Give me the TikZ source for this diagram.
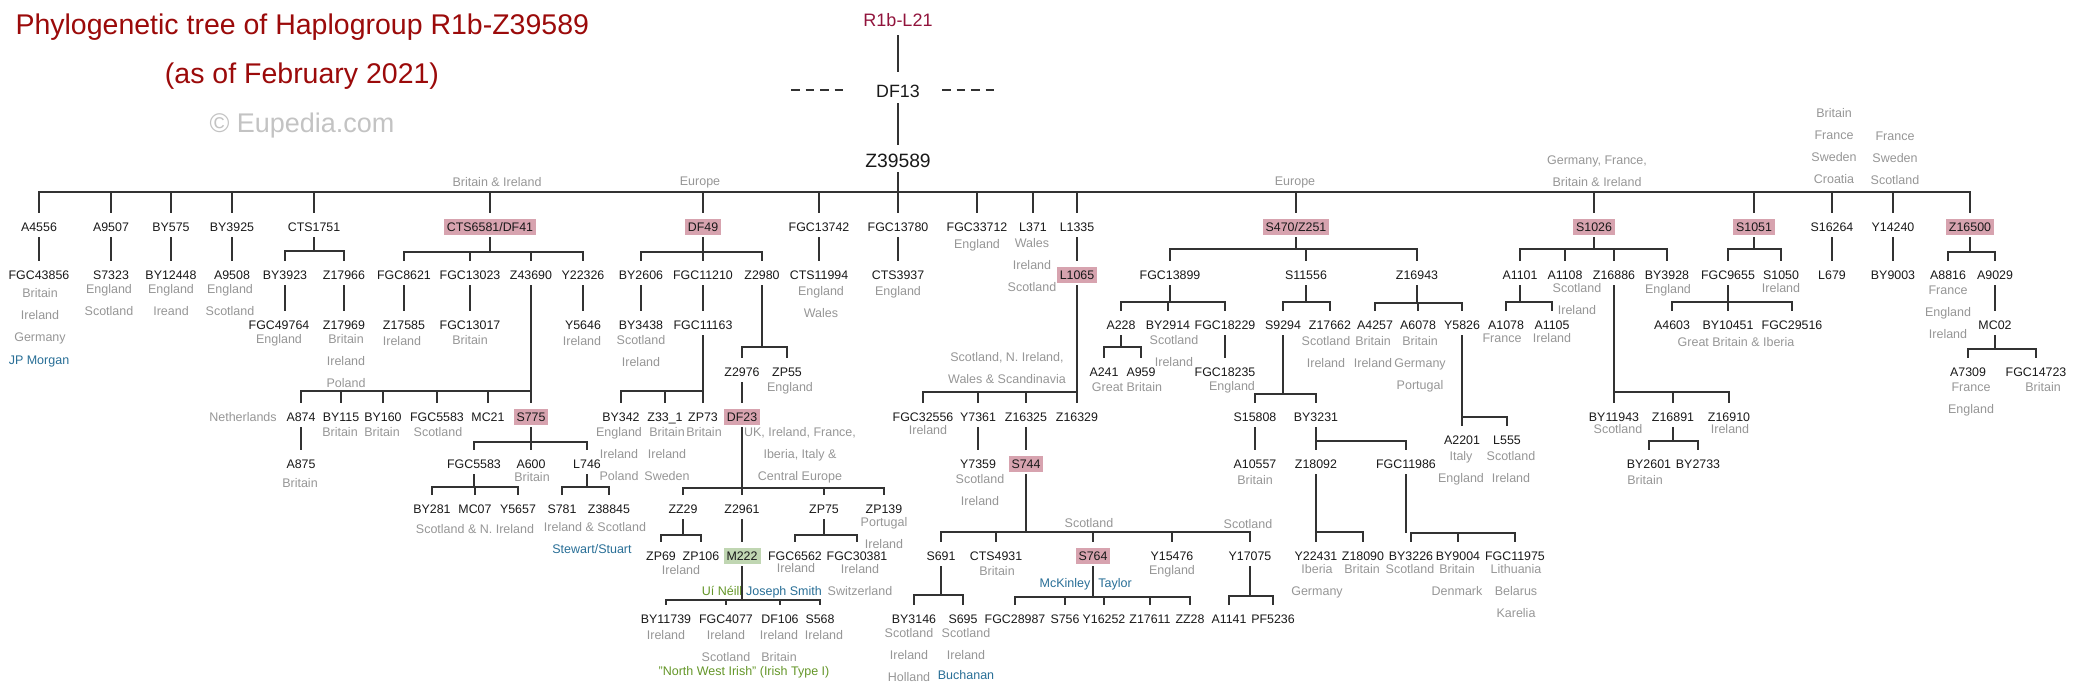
\documentclass[tikz,border=0pt]{standalone}
\usepackage{fontspec}
\setmainfont{Liberation Sans}
\definecolor{eup-red}{RGB}{155,10,10}
\definecolor{eup-wine}{RGB}{145,20,60}
\definecolor{eup-ink}{RGB}{25,25,25}
\definecolor{eup-line}{RGB}{50,50,50}
\definecolor{eup-grey}{RGB}{150,150,150}
\definecolor{eup-mark}{RGB}{195,195,195}
\definecolor{eup-pink}{RGB}{215,163,175}
\definecolor{eup-green}{RGB}{192,214,178}
\definecolor{eup-blue}{RGB}{40,110,150}
\definecolor{eup-olive}{RGB}{100,150,40}

\begin{document}
\begin{tikzpicture}[x=1pt,y=-1pt,
    snp/.style={font=\fontsize{12.4}{15}\selectfont, text=eup-ink, inner xsep=3pt, inner ysep=3.5pt, text height=9.2pt, text depth=0pt},
    key/.style={snp, fill=eup-pink},
    clade/.style={snp, fill=eup-green},
    rootname/.style={text=eup-ink, inner sep=3pt, anchor=base},
    head/.style={font=\fontsize{28.5}{30}\selectfont, text=eup-red},
    cty/.style={font=\fontsize{12.5}{22}\selectfont, text=eup-grey, align=center, anchor=north, inner sep=0pt, yshift=4.5pt},
    who/.style={cty, text=eup-blue},
    tribe/.style={cty, text=eup-olive},
    wire/.style={draw=eup-line, line width=1.8pt},
    lnk/.style={wire, shorten <=2pt, shorten >=6pt},
    stem/.style={wire, shorten <=2pt},
    fork/.style={wire, shorten <=6pt, shorten >=6pt},
    twig/.style={wire, shorten <=6pt}]
    \useasboundingbox (0,0) rectangle (2085,688);

    % heading
    \node[head, anchor=base west] (title) at (12,34) {Phylogenetic tree of Haplogroup R1b-Z39589};
    \node[head, anchor=base] (date) at (302,83) {(as of February 2021)};
    \node[font=\fontsize{27}{30}\selectfont, text=eup-mark, anchor=base] (site) at (302,132) {© Eupedia.com};

    % root
    \node[rootname, text=eup-wine, font=\fontsize{18}{20}\selectfont] (l21) at (898,27) {R1b-L21};
    \node[rootname, font=\fontsize{17.8}{20}\selectfont] (df13) at (898,97) {DF13};
    \node[rootname, font=\fontsize{19.3}{21}\selectfont] (z39589) at (898,167) {Z39589};
    \draw[wire, line width=1.3pt, dash pattern=on 8.5pt off 6pt] (791,90) -- (847,90);
    \draw[wire, line width=1.3pt, dash pattern=on 8.5pt off 6pt] (942,90) -- (996,90);
    \draw[wire, shorten <=5pt, shorten >=9pt] (l21) -- (df13);
    \draw[wire, shorten <=3pt, shorten >=5pt] (df13) -- (z39589);
    \draw[stem] (z39589) -- (z39589 |- 0,192);

    % first row
    \node[snp] (a4556) at (39,227) {A4556};
    \node[snp] (a9507) at (111,227) {A9507};
    \node[snp] (by575) at (171,227) {BY575};
    \node[snp] (by3925) at (232,227) {BY3925};
    \node[snp] (cts1751) at (314,227) {CTS1751};
    \node[key] (cts6581) at (490,227) {CTS6581/DF41};
    \node[key] (df49) at (703,227) {DF49};
    \node[snp] (fgc13742) at (819,227) {FGC13742};
    \node[snp] (fgc13780) at (898,227) {FGC13780};
    \node[snp] (fgc33712) at (977,227) {FGC33712};
    \node[snp] (l371) at (1033,227) {L371};
    \node[snp] (l1335) at (1077,227) {L1335};
    \node[key] (s470) at (1296,227) {S470/Z251};
    \node[key] (s1026) at (1594,227) {S1026};
    \node[key] (s1051) at (1754,227) {S1051};
    \node[snp] (s16264) at (1832,227) {S16264};
    \node[snp] (y14240) at (1893,227) {Y14240};
    \node[key] (z16500) at (1970,227) {Z16500};
    \draw[fork] (a4556) |- (z16500 |- 0,192) -- (z16500);
    \draw[twig] (a9507) -- (a9507 |- 0,192);
    \draw[twig] (by575) -- (by575 |- 0,192);
    \draw[twig] (by3925) -- (by3925 |- 0,192);
    \draw[twig] (cts1751) -- (cts1751 |- 0,192);
    \draw[twig] (cts6581) -- (cts6581 |- 0,192);
    \draw[twig] (df49) -- (df49 |- 0,192);
    \draw[twig] (fgc13742) -- (fgc13742 |- 0,192);
    \draw[twig] (fgc13780) -- (fgc13780 |- 0,192);
    \draw[twig] (fgc33712) -- (fgc33712 |- 0,192);
    \draw[twig] (l371) -- (l371 |- 0,192);
    \draw[twig] (l1335) -- (l1335 |- 0,192);
    \draw[twig] (s470) -- (s470 |- 0,192);
    \draw[twig] (s1026) -- (s1026 |- 0,192);
    \draw[twig] (s1051) -- (s1051 |- 0,192);
    \draw[twig] (s16264) -- (s16264 |- 0,192);
    \draw[twig] (y14240) -- (y14240 |- 0,192);
    \node[cty] (cts6581c) at (497,182) {Britain \& Ireland};
    \node[cty] (df49c) at (700,181) {Europe};
    \node[cty] (s470c) at (1295,181) {Europe};
    \node[cty] (s1026c) at (1597,160) {Germany, France,\\Britain \& Ireland};
    \node[cty] (s16264c) at (1834,113) {Britain\\France\\Sweden\\Croatia};
    \node[cty] (y14240c) at (1895,136) {France\\Sweden\\Scotland};

    % A4556 to CTS1751
    \node[snp] (fgc43856) at (39,275) {FGC43856};
    \node[cty] (fgc43856c) at (40,293) {Britain\\Ireland\\Germany};
    \node[who] (jpmorgan) at (39,360) {JP Morgan};
    \draw[lnk] (a4556) -- (fgc43856);
    \node[snp] (s7323) at (111,275) {S7323};
    \node[cty] (s7323c) at (109,289) {England\\Scotland};
    \draw[lnk] (a9507) -- (s7323);
    \node[snp] (by12448) at (171,275) {BY12448};
    \node[cty] (by12448c) at (171,289) {England\\Ireand};
    \draw[lnk] (by575) -- (by12448);
    \node[snp] (a9508) at (232,275) {A9508};
    \node[cty] (a9508c) at (230,289) {England\\Scotland};
    \draw[lnk] (by3925) -- (a9508);

    \node[snp] (by3923) at (285,275) {BY3923};
    \node[snp] (z17966) at (344,275) {Z17966};
    \draw[stem] (cts1751) -- (cts1751 |- 0,251);
    \draw[fork] (by3923) |- (z17966 |- 0,251) -- (z17966);
    \node[snp] (fgc49764) at (279,325) {FGC49764};
    \node[cty] (fgc49764c) at (279,339) {England};
    \draw[lnk] (by3923) -- (by3923 |- fgc49764.north);
    \node[snp] (z17969) at (344,325) {Z17969};
    \node[cty] (z17969c) at (346,339) {Britain\\Ireland\\Poland};
    \draw[lnk] (z17966) -- (z17969);

    % CTS6581/DF41
    \node[snp] (fgc8621) at (404,275) {FGC8621};
    \node[snp] (fgc13023) at (470,275) {FGC13023};
    \node[snp] (z43690) at (531,275) {Z43690};
    \node[snp] (y22326) at (583,275) {Y22326};
    \draw[stem] (cts6581) -- (cts6581 |- 0,252);
    \draw[fork] (fgc8621) |- (y22326 |- 0,252) -- (y22326);
    \draw[twig] (fgc13023) -- (fgc13023 |- 0,252);
    \draw[twig] (z43690) -- (z43690 |- 0,252);
    \node[snp] (z17585) at (404,325) {Z17585};
    \node[cty] (z17585c) at (402,341) {Ireland};
    \draw[lnk] (fgc8621) -- (z17585);
    \node[snp] (fgc13017) at (470,325) {FGC13017};
    \node[cty] (fgc13017c) at (470,340) {Britain};
    \draw[lnk] (fgc13023) -- (fgc13017);
    \node[snp] (y5646) at (583,325) {Y5646};
    \node[cty] (y5646c) at (582,341) {Ireland};
    \draw[lnk] (y22326) -- (y5646);

    \node[snp] (a874) at (301,417) {A874};
    \node[snp] (by115) at (341,417) {BY115};
    \node[snp] (by160) at (383,417) {BY160};
    \node[snp] (fgc5583a) at (437,417) {FGC5583};
    \node[snp] (mc21) at (488,417) {MC21};
    \node[key] (s775) at (531,417) {S775};
    \draw[stem] (z43690) -- (z43690 |- 0,391);
    \draw[fork] (a874) |- (s775 |- 0,391) -- (s775);
    \draw[twig] (by115) -- (by115 |- 0,391);
    \draw[twig] (by160) -- (by160 |- 0,391);
    \draw[twig] (fgc5583a) -- (fgc5583a |- 0,391);
    \draw[twig] (mc21) -- (mc21 |- 0,391);
    \node[cty] (a874c) at (243,417) {Netherlands};
    \node[cty] (by115c) at (340,432) {Britain};
    \node[cty] (by160c) at (382,432) {Britain};
    \node[cty] (fgc5583ac) at (438,432) {Scotland};
    \node[snp] (a875) at (301,464) {A875};
    \node[cty] (a875c) at (300,483) {Britain};
    \draw[lnk] (a874) -- (a875);

    \node[snp] (fgc5583b) at (474,464) {FGC5583};
    \node[snp] (a600) at (531,464) {A600};
    \node[snp] (l746) at (587,464) {L746};
    \draw[stem] (s775) -- (s775 |- 0,442);
    \draw[fork] (fgc5583b) |- (l746 |- 0,442) -- (l746);
    \draw[twig] (a600) -- (a600 |- 0,442);
    \node[cty] (a600c) at (532,477) {Britain};
    \node[snp] (by281) at (432,509) {BY281};
    \node[snp] (mc07) at (475,509) {MC07};
    \node[snp] (y5657) at (518,509) {Y5657};
    \draw[stem] (fgc5583b) -- (fgc5583b |- 0,487);
    \draw[fork] (by281) |- (y5657 |- 0,487) -- (y5657);
    \draw[twig] (mc07) -- (mc07 |- 0,487);
    \node[cty] (mc07c) at (475,529) {Scotland \& N. Ireland};
    \node[snp] (s781) at (562,509) {S781};
    \node[snp] (z38845) at (609,509) {Z38845};
    \draw[stem] (l746) -- (l746 |- 0,487);
    \draw[fork] (s781) |- (z38845 |- 0,487) -- (z38845);
    \node[cty] (l746c) at (595,527) {Ireland \& Scotland};
    \node[who] (stewart) at (592,549) {Stewart/Stuart};

    % DF49
    \node[snp] (by2606) at (641,275) {BY2606};
    \node[snp] (fgc11210) at (703,275) {FGC11210};
    \node[snp] (z2980) at (762,275) {Z2980};
    \draw[stem] (df49) -- (df49 |- 0,252);
    \draw[fork] (by2606) |- (z2980 |- 0,252) -- (z2980);
    \draw[twig] (fgc11210) -- (fgc11210 |- 0,252);
    \node[snp] (by3438) at (641,325) {BY3438};
    \node[cty] (by3438c) at (641,340) {Scotland\\Ireland};
    \draw[lnk] (by2606) -- (by3438);
    \node[snp] (fgc11163) at (703,325) {FGC11163};
    \draw[lnk] (fgc11210) -- (fgc11163);
    \node[snp] (by342) at (621,417) {BY342};
    \node[snp] (z331) at (665,417) {Z33\_1};
    \node[snp] (zp73) at (703,417) {ZP73};
    \draw[stem] (fgc11163) -- (fgc11163 |- 0,391);
    \draw[fork] (by342) |- (zp73 |- 0,391) -- (zp73);
    \draw[twig] (z331) -- (z331 |- 0,391);
    \node[cty] (by342c) at (619,432) {England\\Ireland\\Poland};
    \node[cty] (z331c) at (667,432) {Britain\\Ireland\\Sweden};
    \node[cty] (zp73c) at (704,432) {Britain};

    \node[snp] (z2976) at (742,372) {Z2976};
    \node[snp] (zp55) at (787,372) {ZP55};
    \draw[stem] (z2980) -- (z2980 |- 0,347);
    \draw[fork] (z2976) |- (zp55 |- 0,347) -- (zp55);
    \node[cty] (zp55c) at (790,387) {England};
    \node[key] (df23) at (742,417) {DF23};
    \draw[lnk] (z2976) -- (df23);
    \node[cty] (df23c) at (800,432) {UK, Ireland, France,\\Iberia, Italy \&\\Central Europe};
    \node[snp] (zz29) at (683,509) {ZZ29};
    \node[snp] (z2961) at (742,509) {Z2961};
    \node[snp] (zp75) at (824,509) {ZP75};
    \node[snp] (zp139) at (884,509) {ZP139};
    \draw[stem] (df23) -- (df23 |- 0,488);
    \draw[fork] (zz29) |- (zp139 |- 0,488) -- (zp139);
    \draw[twig] (z2961) -- (z2961 |- 0,488);
    \draw[twig] (zp75) -- (zp75 |- 0,488);
    \node[cty] (zp139c) at (884,522) {Portugal\\Ireland};

    \node[snp] (zp69) at (661,556) {ZP69};
    \node[snp] (zp106) at (701,556) {ZP106};
    \draw[stem] (zz29) -- (zz29 |- 0,535);
    \draw[fork] (zp69) |- (zp106 |- 0,535) -- (zp106);
    \node[cty] (zz29c) at (681,570) {Ireland};
    \node[clade] (m222) at (742,556) {M222};
    \draw[lnk] (z2961) -- (m222);
    \node[tribe] (uineill) at (722,591) {Uí Néill};
    \node[who] (smith) at (784,591) {Joseph Smith};
    \node[snp] (by11739) at (666,619) {BY11739};
    \node[snp] (fgc4077) at (726,619) {FGC4077};
    \node[snp] (df106) at (780,619) {DF106};
    \node[snp] (s568) at (820,619) {S568};
    \draw[stem] (m222) -- (m222 |- 0,600);
    \draw[fork] (by11739) |- (s568 |- 0,600) -- (s568);
    \draw[twig] (fgc4077) -- (fgc4077 |- 0,600);
    \draw[twig] (df106) -- (df106 |- 0,600);
    \node[cty] (by11739c) at (666,635) {Ireland};
    \node[cty] (fgc4077c) at (726,635) {Ireland\\Scotland};
    \node[cty] (df106c) at (779,635) {Ireland\\Britain};
    \node[cty] (s568c) at (824,635) {Ireland};
    \node[tribe] (nwirish) at (744,671) {"North West Irish" (Irish Type I)};
    \node[snp] (fgc6562) at (795,556) {FGC6562};
    \node[snp] (fgc30381) at (857,556) {FGC30381};
    \draw[stem] (zp75) -- (zp75 |- 0,535);
    \draw[fork] (fgc6562) |- (fgc30381 |- 0,535) -- (fgc30381);
    \node[cty] (fgc6562c) at (796,568) {Ireland};
    \node[cty] (fgc30381c) at (860,569) {Ireland\\Switzerland};

    % FGC13742 to L371
    \node[snp] (cts11994) at (819,275) {CTS11994};
    \node[cty] (cts11994c) at (821,291) {England\\Wales};
    \draw[lnk] (fgc13742) -- (cts11994);
    \node[snp] (cts3937) at (898,275) {CTS3937};
    \node[cty] (cts3937c) at (898,291) {England};
    \draw[lnk] (fgc13780) -- (cts3937);
    \node[cty] (fgc33712c) at (977,244) {England};
    \node[cty] (l371c) at (1032,243) {Wales\\Ireland\\Scotland};

    % L1335
    \node[key] (l1065) at (1077,275) {L1065};
    \draw[lnk] (l1335) -- (l1065);
    \node[snp] (fgc32556) at (923,417) {FGC32556};
    \node[snp] (y7361) at (978,417) {Y7361};
    \node[snp] (z16325) at (1026,417) {Z16325};
    \node[snp] (z16329) at (1077,417) {Z16329};
    \draw[stem] (l1065) -- (l1065 |- 0,392);
    \draw[fork] (fgc32556) |- (z16329 |- 0,392) -- (z16329);
    \draw[twig] (y7361) -- (y7361 |- 0,392);
    \draw[twig] (z16325) -- (z16325 |- 0,392);
    \node[cty] (l1065c) at (1007,357) {Scotland, N. Ireland,\\Wales \& Scandinavia};
    \node[cty] (fgc32556c) at (928,430) {Ireland};
    \node[snp] (y7359) at (978,464) {Y7359};
    \node[cty] (y7359c) at (980,479) {Scotland\\Ireland};
    \draw[lnk] (y7361) -- (y7359);
    \node[key] (s744) at (1026,464) {S744};
    \draw[lnk] (z16325) -- (s744);

    \node[snp] (s691) at (941,556) {S691};
    \node[snp] (cts4931) at (996,556) {CTS4931};
    \node[key] (s764) at (1093,556) {S764};
    \node[snp] (y15476) at (1172,556) {Y15476};
    \node[snp] (y17075) at (1250,556) {Y17075};
    \draw[stem] (s744) -- (s744 |- 0,532);
    \draw[fork] (s691) |- (y17075 |- 0,532) -- (y17075);
    \draw[twig] (cts4931) -- (cts4931 |- 0,532);
    \draw[twig] (s764) -- (s764 |- 0,532);
    \draw[twig] (y15476) -- (y15476 |- 0,532);
    \node[cty] (s764c) at (1089,523) {Scotland};
    \node[cty] (y17075c) at (1248,524) {Scotland};
    \node[cty] (cts4931c) at (997,571) {Britain};
    \node[cty] (y15476c) at (1172,570) {England};

    \node[snp] (by3146) at (914,619) {BY3146};
    \node[snp] (s695) at (963,619) {S695};
    \draw[stem] (s691) -- (s691 |- 0,595);
    \draw[fork] (by3146) |- (s695 |- 0,595) -- (s695);
    \node[cty] (by3146c) at (909,633) {Scotland\\Ireland\\Holland};
    \node[cty] (s695c) at (966,633) {Scotland\\Ireland};
    \node[who] (buchanan) at (966,675) {Buchanan};

    \node[snp] (fgc28987) at (1015,619) {FGC28987};
    \node[snp] (s756) at (1065,619) {S756};
    \node[snp] (y16252) at (1104,619) {Y16252};
    \node[snp] (z17611) at (1150,619) {Z17611};
    \node[snp] (zz28) at (1190,619) {ZZ28};
    \draw[stem] (s764) -- (s764 |- 0,597);
    \draw[fork] (fgc28987) |- (zz28 |- 0,597) -- (zz28);
    \draw[twig] (s756) -- (s756 |- 0,597);
    \draw[twig] (y16252) -- (y16252 |- 0,597);
    \draw[twig] (z17611) -- (z17611 |- 0,597);
    \node[who] (mckinley) at (1065,583) {McKinley};
    \node[who] (taylor) at (1115,583) {Taylor};

    \node[snp] (a1141) at (1229,619) {A1141};
    \node[snp] (pf5236) at (1273,619) {PF5236};
    \draw[stem] (y17075) -- (y17075 |- 0,596);
    \draw[fork] (a1141) |- (pf5236 |- 0,596) -- (pf5236);

    % S470/Z251
    \node[snp] (fgc13899) at (1170,275) {FGC13899};
    \node[snp] (s11556) at (1306,275) {S11556};
    \node[snp] (z16943) at (1417,275) {Z16943};
    \draw[stem] (s470) -- (s470 |- 0,249);
    \draw[fork] (fgc13899) |- (z16943 |- 0,249) -- (z16943);
    \draw[twig] (s11556) -- (s11556 |- 0,249);

    \node[snp] (a228) at (1121,325) {A228};
    \node[snp] (by2914) at (1168,325) {BY2914};
    \node[snp] (fgc18229) at (1225,325) {FGC18229};
    \draw[stem] (fgc13899) -- (fgc13899 |- 0,302);
    \draw[fork] (a228) |- (fgc18229 |- 0,302) -- (fgc18229);
    \draw[twig] (by2914) -- (by2914 |- 0,302);
    \node[cty] (by2914c) at (1174,340) {Scotland\\Ireland};
    \node[snp] (a241) at (1104,372) {A241};
    \node[snp] (a959) at (1141,372) {A959};
    \draw[stem] (a228) -- (a228 |- 0,347);
    \draw[fork] (a241) |- (a959 |- 0,347) -- (a959);
    \node[cty] (a228c) at (1127,387) {Great Britain};
    \node[snp] (fgc18235) at (1225,372) {FGC18235};
    \node[cty] (fgc18235c) at (1232,386) {England};
    \draw[lnk] (fgc18229) -- (fgc18235);

    \node[snp] (s9294) at (1283,325) {S9294};
    \node[snp] (z17662) at (1330,325) {Z17662};
    \draw[stem] (s11556) -- (s11556 |- 0,302);
    \draw[fork] (s9294) |- (z17662 |- 0,302) -- (z17662);
    \node[cty] (z17662c) at (1326,341) {Scotland\\Ireland};
    \node[snp] (s15808) at (1255,417) {S15808};
    \node[snp] (by3231) at (1316,417) {BY3231};
    \draw[stem] (s9294) -- (s9294 |- 0,394);
    \draw[fork] (s15808) |- (by3231 |- 0,394) -- (by3231);
    \node[snp] (a10557) at (1255,464) {A10557};
    \node[cty] (a10557c) at (1255,480) {Britain};
    \draw[lnk] (s15808) -- (a10557);
    \node[snp] (z18092) at (1316,464) {Z18092};
    \node[snp] (fgc11986) at (1406,464) {FGC11986};
    \draw[stem] (by3231) -- (by3231 |- 0,441);
    \draw[fork] (z18092) |- (fgc11986 |- 0,441) -- (fgc11986);
    \node[snp] (y22431) at (1316,556) {Y22431};
    \node[snp] (z18090) at (1363,556) {Z18090};
    \draw[stem] (z18092) -- (z18092 |- 0,532);
    \draw[fork] (y22431) |- (z18090 |- 0,532) -- (z18090);
    \node[cty] (y22431c) at (1317,569) {Iberia\\Germany};
    \node[cty] (z18090c) at (1362,569) {Britain};
    \node[snp] (by3226) at (1411,556) {BY3226};
    \node[snp] (by9004) at (1458,556) {BY9004};
    \node[snp] (fgc11975) at (1515,556) {FGC11975};
    \draw[stem] (fgc11986) -- (fgc11986 |- 0,533);
    \draw[fork] (by3226) |- (fgc11975 |- 0,533) -- (fgc11975);
    \draw[twig] (by9004) -- (by9004 |- 0,533);
    \node[cty] (by3226c) at (1410,569) {Scotland};
    \node[cty] (by9004c) at (1457,569) {Britain\\Denmark};
    \node[cty] (fgc11975c) at (1516,569) {Lithuania\\Belarus\\Karelia};

    \node[snp] (a4257) at (1375,325) {A4257};
    \node[snp] (a6078) at (1418,325) {A6078};
    \node[snp] (y5826) at (1462,325) {Y5826};
    \draw[stem] (z16943) -- (z16943 |- 0,303);
    \draw[fork] (a4257) |- (y5826 |- 0,303) -- (y5826);
    \draw[twig] (a6078) -- (a6078 |- 0,303);
    \node[cty] (a4257c) at (1373,341) {Britain\\Ireland};
    \node[cty] (a6078c) at (1420,341) {Britain\\Germany\\Portugal};
    \node[snp] (a2201) at (1462,440) {A2201};
    \node[snp] (l555) at (1507,440) {L555};
    \draw[stem] (y5826) -- (y5826 |- 0,417);
    \draw[fork] (a2201) |- (l555 |- 0,417) -- (l555);
    \node[cty] (a2201c) at (1461,456) {Italy\\England};
    \node[cty] (l555c) at (1511,456) {Scotland\\Ireland};

    % S1026
    \node[snp] (a1101) at (1520,275) {A1101};
    \node[snp] (a1108) at (1565,275) {A1108};
    \node[snp] (z16886) at (1614,275) {Z16886};
    \node[snp] (by3928) at (1667,275) {BY3928};
    \draw[stem] (s1026) -- (s1026 |- 0,249);
    \draw[fork] (a1101) |- (by3928 |- 0,249) -- (by3928);
    \draw[twig] (a1108) -- (a1108 |- 0,249);
    \draw[twig] (z16886) -- (z16886 |- 0,249);
    \node[cty] (a1108c) at (1577,288) {Scotland\\Ireland};
    \node[cty] (by3928c) at (1668,289) {England};
    \node[snp] (a1078) at (1506,325) {A1078};
    \node[snp] (a1105) at (1552,325) {A1105};
    \draw[stem] (a1101) -- (a1101 |- 0,302);
    \draw[fork] (a1078) |- (a1105 |- 0,302) -- (a1105);
    \node[cty] (a1078c) at (1502,338) {France};
    \node[cty] (a1105c) at (1552,338) {Ireland};
    \node[snp] (by11943) at (1614,417) {BY11943};
    \node[snp] (z16891) at (1673,417) {Z16891};
    \node[snp] (z16910) at (1729,417) {Z16910};
    \draw[stem] (z16886) -- (z16886 |- 0,392);
    \draw[fork] (by11943) |- (z16910 |- 0,392) -- (z16910);
    \draw[twig] (z16891) -- (z16891 |- 0,392);
    \node[cty] (by11943c) at (1618,429) {Scotland};
    \node[cty] (z16910c) at (1730,429) {Ireland};
    \node[snp] (by2601) at (1649,464) {BY2601};
    \node[snp] (by2733) at (1698,464) {BY2733};
    \draw[stem] (z16891) -- (z16891 |- 0,441);
    \draw[fork] (by2601) |- (by2733 |- 0,441) -- (by2733);
    \node[cty] (by2601c) at (1645,480) {Britain};

    % S1051, S16264, Y14240
    \node[snp] (fgc9655) at (1728,275) {FGC9655};
    \node[snp] (s1050) at (1781,275) {S1050};
    \draw[stem] (s1051) -- (s1051 |- 0,249);
    \draw[fork] (fgc9655) |- (s1050 |- 0,249) -- (s1050);
    \node[cty] (s1050c) at (1781,288) {Ireland};
    \node[snp] (a4603) at (1672,325) {A4603};
    \node[snp] (by10451) at (1728,325) {BY10451};
    \node[snp] (fgc29516) at (1792,325) {FGC29516};
    \draw[stem] (fgc9655) -- (fgc9655 |- 0,302);
    \draw[fork] (a4603) |- (fgc29516 |- 0,302) -- (fgc29516);
    \draw[twig] (by10451) -- (by10451 |- 0,302);
    \node[cty] (fgc9655c) at (1736,342) {Great Britain \& Iberia};
    \node[snp] (l679) at (1832,275) {L679};
    \draw[lnk] (s16264) -- (l679);
    \node[snp] (by9003) at (1893,275) {BY9003};
    \draw[lnk] (y14240) -- (by9003);

    % Z16500
    \node[snp] (a8816) at (1948,275) {A8816};
    \node[snp] (a9029) at (1995,275) {A9029};
    \draw[stem] (z16500) -- (z16500 |- 0,252);
    \draw[fork] (a8816) |- (a9029 |- 0,252) -- (a9029);
    \node[cty] (a8816c) at (1948,290) {France\\England\\Ireland};
    \node[snp] (mc02) at (1995,325) {MC02};
    \draw[lnk] (a9029) -- (mc02);
    \node[snp] (a7309) at (1968,372) {A7309};
    \node[snp] (fgc14723) at (2036,372) {FGC14723};
    \draw[stem] (mc02) -- (mc02 |- 0,349);
    \draw[fork] (a7309) |- (fgc14723 |- 0,349) -- (fgc14723);
    \node[cty] (a7309c) at (1971,387) {France\\England};
    \node[cty] (fgc14723c) at (2043,387) {Britain};
\end{tikzpicture}
\end{document}
